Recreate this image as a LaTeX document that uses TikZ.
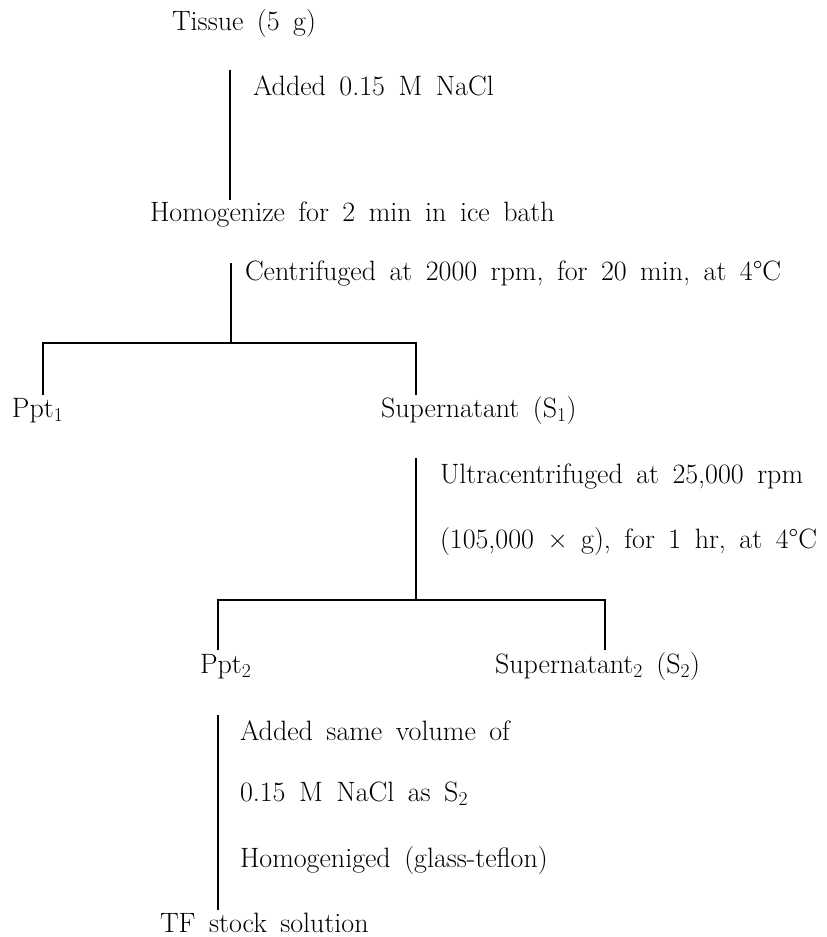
\documentclass[tikz,border=0pt]{standalone}
\newcommand\lblfont{\fontsize{28}{34}\selectfont\spaceskip 13.5pt\relax}
\tikzset{
  lbl/.style={anchor=base west, inner sep=0pt, outer sep=0pt, font=\lblfont},
  ln/.style={line width=1.5pt, draw=black},
}
\begin{document}
\begin{tikzpicture}[x=1pt,y=-1pt]
\useasboundingbox (0,0) rectangle (827,937);
% texts
\node[lbl] (tissue) at (172,30) {Tissue (5 g)};
\node[lbl] (add1) at (253,95) {Added 0.15 M NaCl};
\node[lbl] (homog) at (150,221) {Homogenize for 2 min in ice bath};
\node[lbl] (cent) at (245,280) {Centrifuged at 2000 rpm, for 20 min, at 4\textdegree C};
\node[lbl] (ppt1) at (12,417) {Ppt\textsubscript{1}};
\node[lbl] (sup1) at (381,417) {Supernatant (S\textsubscript{1})};
\node[lbl] (ultra) at (440,483) {Ultracentrifuged at 25,000 rpm};
\node[lbl] (ultrab) at (440,548) {(105,000 \texttimes\ g), for 1 hr, at 4\textdegree C};
\node[lbl] (ppt2) at (200,673) {Ppt\textsubscript{2}};
\node[lbl] (sup2) at (495,673) {Supernatant\textsubscript{2} (S\textsubscript{2})};
\node[lbl] (add2) at (240,740) {Added same volume of};
\node[lbl] (nacl) at (240,801) {0.15 M NaCl as S\textsubscript{2}};
\node[lbl] (homog2) at (240,867) {Homogeniged (glass-teflon)};
\node[lbl] (tf) at (160,932) {TF stock solution};
% connector end points
\coordinate (t1a) at (230,70);  \coordinate (t1b) at (230,200);
\coordinate (t2a) at (231,263); \coordinate (t2b) at (231,343);
\coordinate (b1l) at (43,395);  \coordinate (b1r) at (416,395);
\coordinate (t3a) at (416,458); \coordinate (t3b) at (416,600);
\coordinate (b2l) at (218,650); \coordinate (b2r) at (605,650);
\coordinate (t4a) at (218,715); \coordinate (t4b) at (218,910);
% connectors
\draw[ln] (t1a) -- (t1b);
\draw[ln] (t2a) -- (t2b);
\draw[ln] (b1l) -- (b1l |- t2b) -- (b1r |- t2b) -- (b1r);
\draw[ln] (t3a) -- (t3b);
\draw[ln] (b2l) -- (b2l |- t3b) -- (b2r |- t3b) -- (b2r);
\draw[ln] (t4a) -- (t4b);
\end{tikzpicture}
\end{document}
